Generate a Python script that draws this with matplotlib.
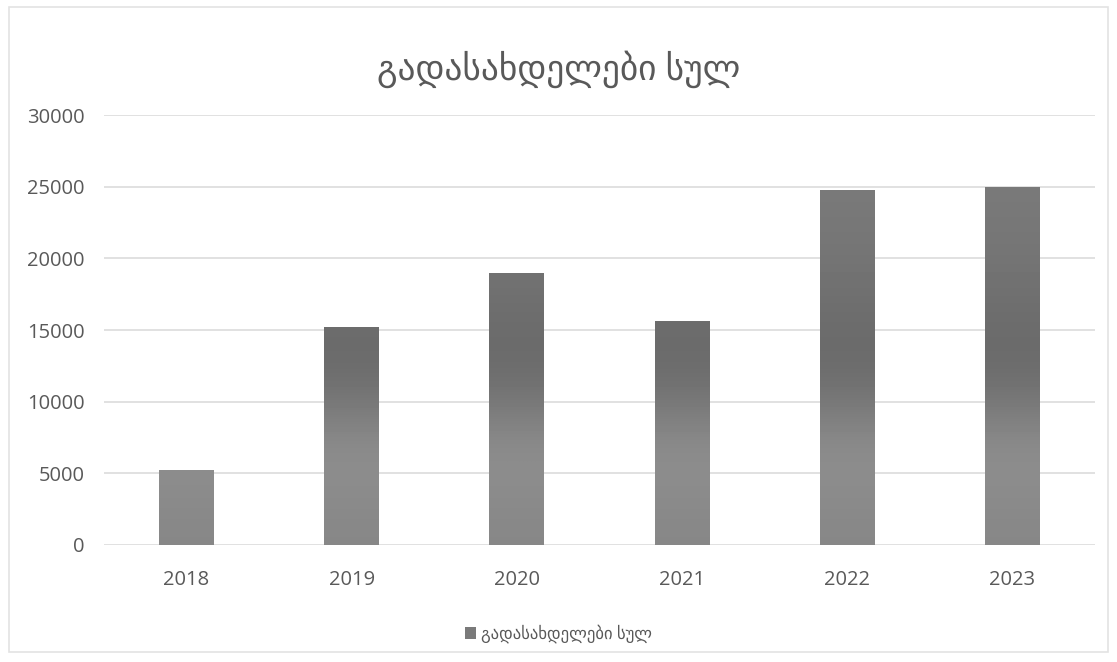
import matplotlib
matplotlib.use("Agg")
import matplotlib.pyplot as plt
import numpy as np
from matplotlib.patches import Rectangle

# data
years = ["2018", "2019", "2020", "2021", "2022", "2023"]
values = [5200, 15200, 19000, 15600, 24800, 25000]
y_ticks = [0, 5000, 10000, 15000, 20000, 25000, 30000]
title = "გადასახდელები სულ"

fonts = ["Open Sans", "DejaVu Sans"]
grey_text = "#595959"

fig = plt.figure(figsize=(11.17, 6.62), dpi=100)
fig.patch.set_facecolor("white")
ax = fig.add_axes([0.093, 0.177, 0.887, 0.649])

x = np.arange(len(years))
bars = ax.bar(x, values, width=0.33, color="none", zorder=2)

# vertical grey gradient, same for every bar
grad = np.array([0.53, 0.55, 0.55, 0.48, 0.42, 0.42, 0.44, 0.46, 0.47, 0.48, 0.48])
img = np.tile(grad[:, None], (1, 2))
for b in bars:
    im = ax.imshow(img, cmap="gray", vmin=0, vmax=1, aspect="auto",
                   extent=[b.get_x(), b.get_x() + b.get_width(), 0, 30000],
                   origin="lower", interpolation="bicubic", zorder=2)
    im.set_clip_path(b)

ax.set_xlim(-0.5, len(years) - 0.5)
ax.set_ylim(0, 30000)
ax.set_yticks(y_ticks)
ax.set_yticklabels([str(t) for t in y_ticks], family=fonts, fontsize=14.5, color=grey_text)
ax.set_xticks(x)
ax.set_xticklabels(years, family=fonts, fontsize=14.5, color=grey_text)
ax.tick_params(axis="x", length=0, pad=18)
ax.tick_params(axis="y", length=0, pad=14)
ax.grid(axis="y", color="#d9d9d9", linewidth=1.1, zorder=0)
ax.set_axisbelow(True)
for s in ax.spines.values():
    s.set_visible(False)

fig.text(0.5, 0.895, title, ha="center", va="center", family=fonts,
         fontsize=25.5, color=grey_text)

# legend
h = Rectangle((0, 0), 1, 1, facecolor="#7a7a7a")
fig.legend([h], [title], loc="center", bbox_to_anchor=(0.5, 0.043), frameon=False,
           prop={"family": fonts, "size": 12}, labelcolor=grey_text,
           handlelength=0.7, handleheight=0.7, handletextpad=0.3)

# chart frame
fig.add_artist(Rectangle((0.008, 0.015), 0.984, 0.975, transform=fig.transFigure,
                         fill=False, edgecolor="#e3e3e3", linewidth=1.2))

fig.savefig("out.png", dpi=100)
